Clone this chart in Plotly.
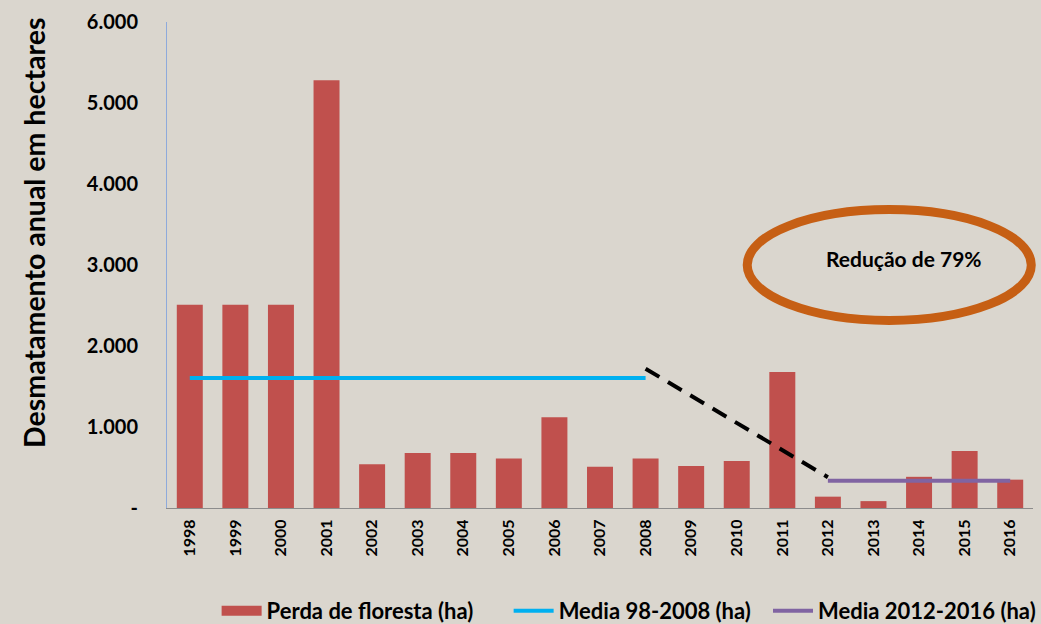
import plotly.graph_objects as go

years = ["1998", "1999", "2000", "2001", "2002", "2003", "2004", "2005", "2006", "2007",
         "2008", "2009", "2010", "2011", "2012", "2013", "2014", "2015", "2016"]
perda = [2510, 2510, 2510, 5280, 540, 680, 680, 610, 1120, 510,
         610, 520, 580, 1680, 140, 85, 385, 705, 350]

media1_years = ["1998", "2008"]
media1_vals = [1605, 1605]
media2_years = ["2012", "2016"]
media2_vals = [335, 335]
trend_years = ["2008", "2012"]
trend_vals = [1720, 380]

y_ticks = [0, 1000, 2000, 3000, 4000, 5000, 6000]
y_labels = ["-", "1.000", "2.000", "3.000", "4.000", "5.000", "6.000"]

FONT = "Lato"
RED = "#c0504d"

fig = go.Figure()

fig.add_trace(
    go.Bar(
        x=years,
        y=perda,
        name="Perda de floresta (ha)",
        marker_color=RED,
        marker_line_width=0,
        showlegend=False,
    )
)
# legend entry for the bars, drawn as a wide block like the original key
fig.add_trace(
    go.Scatter(
        x=[None],
        y=[None],
        mode="lines",
        name="Perda de floresta (ha)",
        line=dict(color=RED, width=17),
        legend="legend",
    )
)
fig.add_trace(
    go.Scatter(
        x=media1_years,
        y=media1_vals,
        mode="lines",
        name="Media 98-2008 (ha)",
        line=dict(color="#00b0f0", width=4),
        legend="legend2",
    )
)
fig.add_trace(
    go.Scatter(
        x=media2_years,
        y=media2_vals,
        mode="lines",
        name="Media 2012-2016 (ha)",
        line=dict(color="#8064a2", width=4),
        legend="legend3",
    )
)
fig.add_trace(
    go.Scatter(
        x=trend_years,
        y=trend_vals,
        mode="lines",
        showlegend=False,
        line=dict(color="black", width=4, dash="16px,10px"),
        hoverinfo="skip",
    )
)

# the orange ellipse with the reduction label
fig.add_shape(
    type="circle",
    xref="paper", yref="paper",
    x0=0.670, x1=0.998, y0=0.386, y1=0.614,
    line=dict(color="#c65f14", width=9),
    layer="above",
)
fig.add_annotation(
    xref="paper", yref="paper",
    x=0.851, y=0.514,
    xanchor="center", yanchor="middle",
    text="<b>Redução de 79%</b>",
    showarrow=False,
    font=dict(family=FONT, size=21, color="black"),
)

# y title as an annotation so it can sit a bit above the plot centre
fig.add_annotation(
    xref="paper", yref="paper",
    x=-0.153, y=0.565,
    xanchor="center", yanchor="middle",
    text="<b>Desmatamento anual em hectares</b>",
    textangle=-90,
    showarrow=False,
    font=dict(family=FONT, size=28.5, color="black"),
)

leg = dict(
    orientation="h",
    yref="container", y=0.021,
    xanchor="left", yanchor="middle",
    font=dict(family=FONT, size=22, color="black", weight="bold"),
    bgcolor="rgba(0,0,0,0)",
    itemwidth=40,
)

fig.update_layout(
    width=1041,
    height=624,
    margin=dict(l=167, r=8, t=22, b=116),
    paper_bgcolor="#dad6ce",
    plot_bgcolor="rgba(0,0,0,0)",
    bargap=0.43,
    font=dict(family=FONT, color="black"),
    showlegend=True,
    legend=dict(leg, x=0.0573),
    legend2=dict(leg, x=0.3945),
    legend3=dict(leg, x=0.7016),
    xaxis=dict(
        type="category",
        tickangle=-90,
        tickfont=dict(family=FONT, size=16, color="black", weight="bold"),
        showgrid=False,
        showline=True,
        linecolor="#8c8c8c",
        linewidth=1,
        ticks="",
        ticklabelstandoff=4,
        automargin=False,
    ),
    yaxis=dict(
        range=[0, 6000],
        tickvals=y_ticks,
        ticktext=y_labels,
        tickfont=dict(family=FONT, size=20, color="black", weight="bold"),
        showgrid=False,
        showline=True,
        linecolor="#8eaadb",
        linewidth=1,
        zeroline=False,
        ticks="",
        ticklabelstandoff=24,
        automargin=False,
    ),
)

fig.write_html(
    "out.html",
    config={"displayModeBar": False},
    post_script="document.body.style.margin='0';document.body.style.overflow='hidden';",
)
